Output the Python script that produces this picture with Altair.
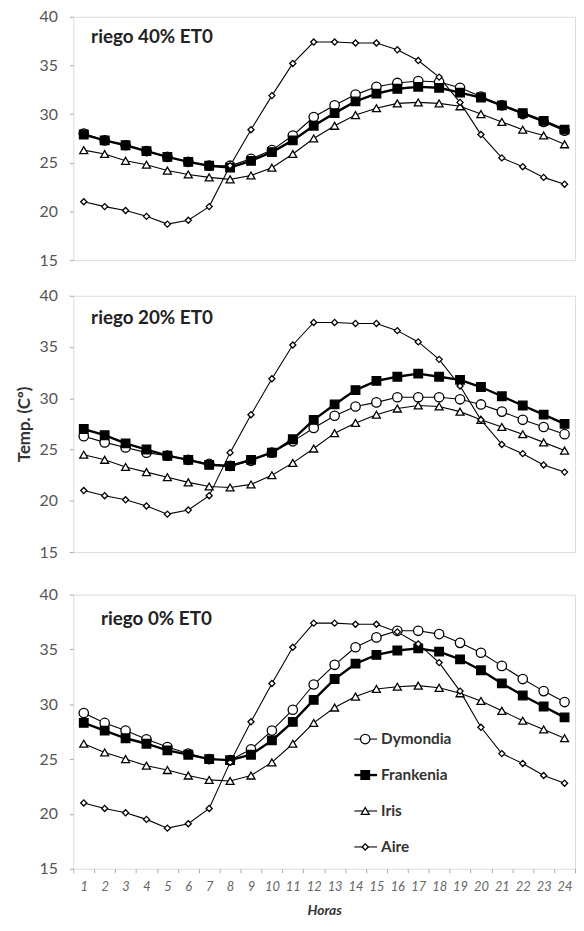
import altair as alt
import pandas as pd

hours = list(range(1, 25))
series = ["Dymondia", "Frankenia", "Iris", "Aire"]
panel_labels = ["riego 40% ET0", "riego 20% ET0", "riego 0% ET0"]
y_ticks = [15, 20, 25, 30, 35, 40]

aire = [21.0, 20.5, 20.1, 19.5, 18.7, 19.1, 20.5, 24.7, 28.4, 31.9, 35.2, 37.4,
        37.4, 37.3, 37.3, 36.6, 35.5, 33.8, 31.2, 27.9, 25.5, 24.6, 23.5, 22.8]

dym_40 = [28.0, 27.3, 26.8, 26.2, 25.6, 25.1, 24.7, 24.7, 25.4, 26.3, 27.8, 29.7,
          30.9, 32.0, 32.8, 33.2, 33.4, 33.3, 32.7, 31.8, 30.9, 30.0, 29.2, 28.3]
fra_40 = [27.9, 27.3, 26.8, 26.2, 25.6, 25.1, 24.7, 24.5, 25.2, 26.1, 27.3, 28.8,
          30.1, 31.3, 32.1, 32.6, 32.8, 32.7, 32.2, 31.7, 30.9, 30.1, 29.3, 28.4]
iris_40 = [26.3, 25.9, 25.2, 24.8, 24.2, 23.8, 23.5, 23.3, 23.7, 24.5, 25.9, 27.5,
           28.8, 29.9, 30.6, 31.1, 31.2, 31.1, 30.8, 30.0, 29.2, 28.4, 27.8, 26.9]

dym_20 = [26.3, 25.7, 25.2, 24.7, 24.4, 24.0, 23.6, 23.4, 23.9, 24.7, 25.8, 27.1,
          28.3, 29.2, 29.6, 30.1, 30.1, 30.1, 29.9, 29.4, 28.7, 27.9, 27.2, 26.5]
fra_20 = [27.0, 26.4, 25.6, 25.0, 24.4, 24.0, 23.5, 23.4, 24.0, 24.7, 26.0, 27.9,
          29.4, 30.8, 31.7, 32.1, 32.4, 32.1, 31.8, 31.1, 30.2, 29.3, 28.4, 27.5]
iris_20 = [24.5, 24.0, 23.3, 22.8, 22.3, 21.8, 21.4, 21.3, 21.6, 22.5, 23.7, 25.1,
           26.6, 27.6, 28.4, 29.0, 29.3, 29.2, 28.7, 27.9, 27.2, 26.5, 25.7, 24.9]

dym_0 = [29.2, 28.3, 27.6, 26.8, 26.1, 25.5, 25.0, 24.9, 25.9, 27.6, 29.5, 31.8,
         33.6, 35.2, 36.1, 36.7, 36.7, 36.4, 35.6, 34.7, 33.5, 32.3, 31.2, 30.2]
fra_0 = [28.3, 27.6, 26.9, 26.4, 25.8, 25.4, 25.0, 24.9, 25.4, 26.7, 28.4, 30.4,
         32.3, 33.7, 34.5, 34.9, 35.1, 34.8, 34.1, 33.1, 31.9, 30.8, 29.8, 28.8]
iris_0 = [26.4, 25.6, 25.0, 24.4, 24.0, 23.5, 23.1, 23.0, 23.5, 24.7, 26.4, 28.3,
          29.7, 30.7, 31.4, 31.6, 31.7, 31.5, 31.0, 30.3, 29.4, 28.5, 27.7, 26.9]

panel_series = [
    [dym_40, fra_40, iris_40, aire],
    [dym_20, fra_20, iris_20, aire],
    [dym_0, fra_0, iris_0, aire],
]

rows = []
for label, vals in zip(panel_labels, panel_series):
    for s, v in zip(series, vals):
        for h, t in zip(hours, v):
            rows.append({"panel": label, "series": s, "hour": h, "temp": t})
df = pd.DataFrame(rows)

FONT = "Lato"
shape_scale = alt.Scale(domain=series, range=["circle", "square", "triangle-up", "diamond"])
fill_scale = alt.Scale(domain=series, range=["white", "black", "white", "white"])
size_scale = alt.Scale(type="ordinal", domain=series, range=[90, 75, 65, 38])
sw_scale = alt.Scale(type="ordinal", domain=series, range=[1.1, 2.4, 1.1, 1.1])

x_scale = alt.Scale(type="band", paddingInner=0, paddingOuter=0)
bottom_axis = alt.Axis(
    title="Horas", labelAngle=0, tickBand="extent", tickSize=4, tickColor="#aaaaaa",
    domain=False, labelFont=FONT, labelFontStyle="italic", labelFontSize=13,
    labelColor="#666666", labelPadding=8, titleFont=FONT, titleFontStyle="italic",
    titleFontWeight="bold", titleFontSize=14, titleColor="#333333", titlePadding=10,
)


def y_enc(show_title):
    return alt.Y(
        "temp:Q",
        scale=alt.Scale(domain=[15, 40], nice=False),
        axis=alt.Axis(
            values=y_ticks, title="Temp. (Cº)", titleOpacity=1 if show_title else 0,
            grid=False, domain=False, tickSize=4, tickColor="#aaaaaa",
            labelFont=FONT, labelFontSize=16, labelColor="#555555", labelPadding=12,
            titleFont=FONT, titleFontSize=17, titleFontWeight="bold",
            titleColor="#333333", titlePadding=6,
        ),
    )


def panel(idx, height, lx, ly, show_x, show_title, legend):
    label = panel_labels[idx]
    base = alt.Chart(df).transform_filter(alt.datum.panel == label)
    x = alt.X("hour:O", scale=x_scale, axis=bottom_axis if show_x else None)
    lines = base.mark_line(color="black").encode(
        x=x, y=y_enc(show_title), detail="series:N",
        strokeWidth=alt.StrokeWidth("series:N", scale=sw_scale, legend=None),
    )
    pts = base.mark_point(filled=True, stroke="black", strokeWidth=1.3, opacity=1).encode(
        x=x, y=y_enc(show_title),
        shape=alt.Shape("series:N", scale=shape_scale, legend=None),
        fill=alt.Fill("series:N", scale=fill_scale, legend=None),
        size=alt.Size("series:N", scale=size_scale, legend=None),
    )
    txt = alt.Chart(pd.DataFrame({"label": [label]})).mark_text(
        align="left", baseline="middle", font=FONT, fontWeight="bold",
        fontSize=19, color="#222222",
    ).encode(x=alt.value(lx), y=alt.value(ly), text="label:N")
    ch = alt.layer(lines, pts, txt)
    if legend:
        leg_df = pd.DataFrame({"series": series})
        leg_y = alt.Y("series:N", scale=alt.Scale(type="point", domain=series,
                                                  range=[146, 255], padding=0), axis=None)
        lb = alt.Chart(leg_df)
        rule = lb.mark_rule(color="black").encode(
            x=alt.value(284), x2=alt.value(307), y=leg_y,
            strokeWidth=alt.StrokeWidth("series:N", scale=sw_scale, legend=None),
        )
        lp = lb.mark_point(filled=True, stroke="black", strokeWidth=1.3, opacity=1).encode(
            x=alt.value(295), y=leg_y,
            shape=alt.Shape("series:N", scale=shape_scale, legend=None),
            fill=alt.Fill("series:N", scale=fill_scale, legend=None),
            size=alt.Size("series:N", scale=size_scale, legend=None),
        )
        lt = lb.mark_text(align="left", baseline="middle", font=FONT, fontWeight="bold",
                          fontSize=15.5, color="#333333").encode(
            x=alt.value(311), y=leg_y, text="series:N")
        leg = alt.layer(rule, lp, lt)
        ch = alt.layer(ch, leg).resolve_scale(y="independent")
    return ch.properties(width=507, height=height)


p1 = panel(0, 246, 18, 21, False, False, False)
p2 = panel(1, 259, 18, 23, False, True, False)
p3 = panel(2, 277, 28, 25, True, False, True)

top_pair = alt.vconcat(p1, p2, spacing=18)
chart = alt.vconcat(top_pair, p3, spacing=25).properties(
    padding={"left": 6, "top": -5, "right": 0, "bottom": -3}
).configure_view(stroke="#7a7a7a", strokeWidth=2.5).configure(font=FONT)

chart.save("out.html", embed_options={"renderer": "svg", "actions": False})
